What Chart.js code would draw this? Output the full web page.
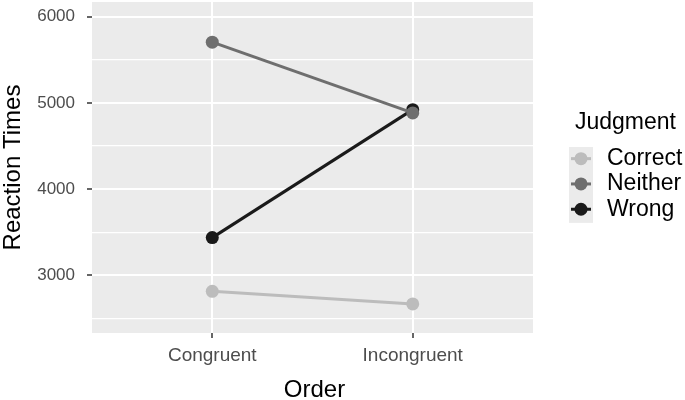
<!DOCTYPE html>
<html>
<head>
<meta charset="utf-8">
<script src="https://cdn.jsdelivr.net/npm/chart.js@4.4.1/dist/chart.umd.min.js"></script>
<style>
  html, body { margin: 0; padding: 0; background: #ffffff; }
  canvas { display: block; }
</style>
</head>
<body>
<canvas id="c" width="685" height="400"></canvas>
<script>
// ---- data ----
const categories = ['Congruent', 'Incongruent'];
const seriesNames = ['Correct', 'Neither', 'Wrong'];
const correctRT = [2815, 2669];
const neitherRT = [5704, 4884];
const wrongRT = [3438, 4922];
const yMajorTicks = [3000, 4000, 5000, 6000];
const yMinorTicks = [2500, 3500, 4500, 5500];
const xTitle = 'Order';
const yTitle = 'Reaction Times';
const legendTitle = 'Judgment';

const seriesColors = ['#bcbcbc', '#6e6e6e', '#1a1a1a'];
const seriesValues = [correctRT, neitherRT, wrongRT];
const FONT = 'Liberation Sans, Arial, Helvetica, sans-serif';

const datasets = seriesNames.map((name, k) => ({
  label: name,
  data: seriesValues[k].map((v, i) => ({ x: i, y: v })),
  borderColor: seriesColors[k],
  backgroundColor: seriesColors[k],
  pointBackgroundColor: seriesColors[k],
  pointBorderWidth: 0,
  pointRadius: 6.5,
  pointHoverRadius: 6.5,
  borderWidth: 3,
  tension: 0
}));

const decorPlugin = {
  id: 'decor',
  beforeDraw(chart) {
    const { ctx, chartArea: a } = chart;
    ctx.save();
    ctx.fillStyle = '#ebebeb';
    ctx.fillRect(a.left, a.top, a.right - a.left, a.bottom - a.top);
    ctx.restore();
  },
  afterDraw(chart) {
    const { ctx, chartArea: a } = chart;
    ctx.save();
    // axis titles
    ctx.fillStyle = '#000000';
    ctx.font = '24px ' + FONT;
    ctx.textAlign = 'center';
    ctx.textBaseline = 'alphabetic';
    ctx.fillText(xTitle, (a.left + a.right) / 2 + 2, 397);
    ctx.save();
    ctx.translate(20, (a.top + a.bottom) / 2);
    ctx.rotate(-Math.PI / 2);
    ctx.fillText(yTitle, 0, 0);
    ctx.restore();

    // legend
    ctx.textAlign = 'left';
    ctx.textBaseline = 'middle';
    ctx.font = '23px ' + FONT;
    ctx.fillStyle = '#000000';
    ctx.fillText(legendTitle, 575, 123);
    const kx = 569, kw = 24, ky = 147, kh = 25.3;
    ctx.fillStyle = '#ebebeb';
    ctx.fillRect(kx, ky, kw, kh * seriesNames.length);
    ctx.font = '23px ' + FONT;
    seriesNames.forEach((name, k) => {
      const cy = ky + kh * k + kh / 2 - 1;
      ctx.strokeStyle = seriesColors[k];
      ctx.lineWidth = 3;
      ctx.beginPath();
      ctx.moveTo(kx + 2, cy);
      ctx.lineTo(kx + kw - 2, cy);
      ctx.stroke();
      ctx.fillStyle = seriesColors[k];
      ctx.beginPath();
      ctx.arc(kx + kw / 2, cy, 6.5, 0, Math.PI * 2);
      ctx.fill();
      ctx.fillStyle = '#000000';
      ctx.fillText(name, 607, cy);
    });
    ctx.restore();
  }
};

new Chart(document.getElementById('c'), {
  type: 'line',
  data: { datasets },
  plugins: [decorPlugin],
  options: {
    responsive: false,
    animation: false,
    events: [],
    layout: { autoPadding: false, padding: { left: 0, top: 2, right: 152, bottom: 0 } },
    plugins: { legend: { display: false }, tooltip: { enabled: false } },
    scales: {
      x: {
        type: 'linear',
        min: -0.6,
        max: 1.6,
        afterBuildTicks: s => { s.ticks = categories.map((c, i) => ({ value: i })); },
        afterFit: s => { s.height = 67; s.paddingLeft = 0; s.paddingRight = 0; },
        border: { display: false },
        grid: { color: '#ffffff', lineWidth: 2, tickLength: 5, tickColor: '#333333', tickWidth: 1.5 },
        ticks: {
          callback: v => categories[v],
          font: { family: FONT, size: 19 },
          color: '#4d4d4d',
          padding: 6,
          maxRotation: 0,
          autoSkip: false
        }
      },
      y: {
        type: 'linear',
        min: 2332,
        max: 6170,
        afterBuildTicks: s => {
          s.ticks = yMinorTicks.concat(yMajorTicks).sort((p, q) => p - q).map(v => ({ value: v }));
        },
        afterFit: s => { s.width = 92; s.paddingTop = 0; s.paddingBottom = 0; },
        border: { display: false },
        grid: {
          color: '#ffffff',
          lineWidth: c => yMajorTicks.includes(c.tick.value) ? 2 : 1.2,
          tickLength: 5,
          tickColor: c => yMajorTicks.includes(c.tick.value) ? '#333333' : 'rgba(0,0,0,0)',
          tickWidth: 1.5
        },
        ticks: {
          callback: v => yMajorTicks.includes(v) ? String(v) : '',
          font: { family: FONT, size: 17 },
          color: '#4d4d4d',
          padding: 12,
          autoSkip: false
        }
      }
    }
  }
});
</script>
</body>
</html>
